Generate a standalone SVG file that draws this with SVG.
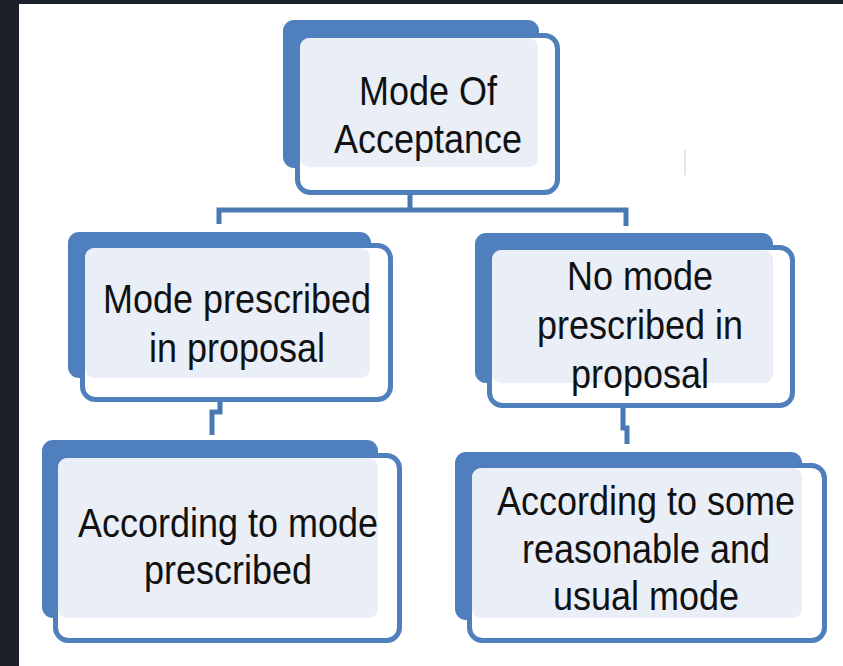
<svg xmlns="http://www.w3.org/2000/svg" width="843" height="666" viewBox="0 0 843 666">
<style>
.back{fill:#4f7fbc}
.front{fill:#ffffff;stroke:#4f7fbc;stroke-width:5}
.inner{fill:#e9eef7}
.lbl{font-family:"Liberation Sans",Arial,sans-serif;font-size:36px;fill:#111111;text-anchor:middle}
.conn{fill:none;stroke:#4a78b3;stroke-width:5}
</style>
<rect x="0" y="0" width="843" height="666" fill="#ffffff"/>
<rect x="0" y="0" width="843" height="4" fill="#1b202b"/>
<rect x="0" y="0" width="19" height="666" fill="#1b202b"/>
<line x1="685" y1="150" x2="685" y2="175" stroke="#e6e6e6" stroke-width="2"/>

<g id="connectors">
<path class="conn" d="M410 192 V210 M219 224 V210 H626 V226"/>
<path class="conn" d="M220 402 V412 H212 V435"/>
<path class="conn" d="M623 408 V428 H627 V444"/>
</g>

<g id="node-mode-of-acceptance">
<rect class="back" x="283" y="20" width="256" height="148" rx="11"/>
<rect class="front" x="297.5" y="35.5" width="260" height="157" rx="13"/>
<rect class="inner" x="300" y="38" width="238" height="129" rx="9"/>
<text class="lbl" transform="translate(428 105) scale(1 1.15)">Mode Of</text>
<text class="lbl" transform="translate(428 153) scale(1 1.15)">Acceptance</text>
</g>

<g id="node-mode-prescribed">
<rect class="back" x="68" y="232" width="303" height="146" rx="11"/>
<rect class="front" x="82.5" y="245.5" width="308" height="154" rx="13"/>
<rect class="inner" x="85" y="248" width="285" height="130" rx="9"/>
<text class="lbl" transform="translate(237 313) scale(1 1.15)">Mode prescribed</text>
<text class="lbl" transform="translate(237 362) scale(1 1.15)">in proposal</text>
</g>

<g id="node-no-mode">
<rect class="back" x="475" y="233" width="298" height="150" rx="11"/>
<rect class="front" x="489.5" y="247.5" width="303" height="158" rx="13"/>
<rect class="inner" x="492" y="250" width="281" height="133" rx="9"/>
<text class="lbl" transform="translate(640 290) scale(1 1.15)">No mode</text>
<text class="lbl" transform="translate(640 339) scale(1 1.15)">prescribed in</text>
<text class="lbl" transform="translate(640 388) scale(1 1.15)">proposal</text>
</g>

<g id="node-according-prescribed">
<rect class="back" x="42" y="440" width="336" height="178" rx="11"/>
<rect class="front" x="55.5" y="455.5" width="344" height="185" rx="13"/>
<rect class="inner" x="58" y="458" width="320" height="160" rx="9"/>
<text class="lbl" transform="translate(228 537) scale(1 1.15)">According to mode</text>
<text class="lbl" transform="translate(228 584) scale(1 1.15)">prescribed</text>
</g>

<g id="node-according-reasonable">
<rect class="back" x="455" y="452" width="347" height="168" rx="11"/>
<rect class="front" x="469.5" y="465.5" width="355" height="175" rx="13"/>
<rect class="inner" x="472" y="468" width="330" height="150" rx="9"/>
<text class="lbl" transform="translate(646 515) scale(1 1.15)">According to some</text>
<text class="lbl" transform="translate(646 563) scale(1 1.15)">reasonable and</text>
<text class="lbl" transform="translate(646 610) scale(1 1.15)">usual mode</text>
</g>
</svg>
